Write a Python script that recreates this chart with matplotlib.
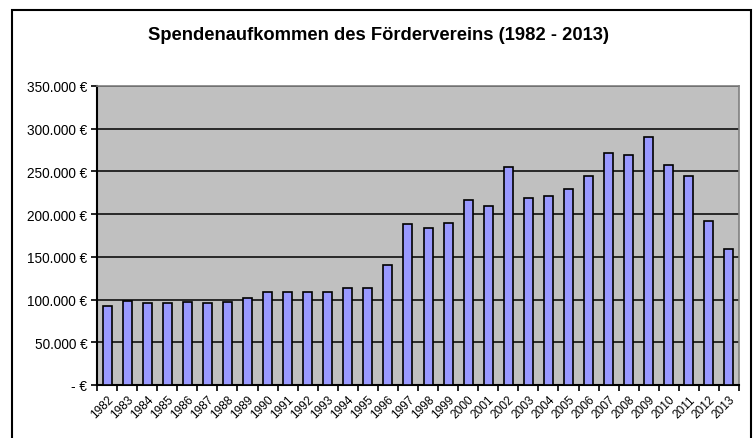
import matplotlib.pyplot as plt
from matplotlib.patches import Rectangle

plt.rcParams['font.family'] = ['Liberation Sans', 'DejaVu Sans']

years = [str(y) for y in range(1982, 2014)]
spenden = [92000, 98000, 96000, 96000, 97500, 96000, 97500, 102000,
           109000, 109000, 109000, 109000, 113500, 113500, 140000, 188000,
           183500, 189500, 216000, 209500, 255500, 219000, 221000, 230000,
           244500, 271000, 269000, 290500, 258000, 244500, 192500, 159000]
y_ticks = [0, 50000, 100000, 150000, 200000, 250000, 300000, 350000]


def euro(v):
    if v == 0:
        return "- €"
    return f"{v:,.0f}".replace(",", ".") + " €"


fig = plt.figure(figsize=(7.56, 4.39), dpi=100)
# outer chart frame
fig.patches.append(Rectangle((12 / 756, -0.05), 739 / 756, 1 - 11 / 439 + 0.05,
                             transform=fig.transFigure, fill=False,
                             edgecolor='black', linewidth=1.5))

ax = fig.add_axes([97 / 756, 1 - 386 / 439, 642 / 756, 299 / 439])
ax.set_facecolor('#C0C0C0')

x = list(range(len(years)))
ax.bar(x, spenden, width=0.45, color='#9999FF', edgecolor='black',
       linewidth=1.2, zorder=3)

ax.set_xlim(-0.5, len(years) - 0.5)
ax.set_ylim(0, 350000)
ax.set_yticks(y_ticks)
ax.set_yticklabels([euro(v) for v in y_ticks], fontsize=9.8)
ax.yaxis.grid(True, color='black', linewidth=1.1, zorder=1)
ax.set_axisbelow(True)

ax.set_xticks(x)
ax.set_xticklabels(years, rotation=45, ha='right', va='top',
                   rotation_mode='anchor', fontsize=8.6)
ax.tick_params(axis='x', which='major', length=0, pad=6)
ax.set_xticks([i - 0.5 for i in range(len(years) + 1)], minor=True)
ax.tick_params(axis='x', which='minor', length=4, width=1.2, direction='out')
ax.tick_params(axis='y', length=4, width=1.2, direction='out', pad=3)

for side in ['left', 'bottom']:
    ax.spines[side].set_color('black')
    ax.spines[side].set_linewidth(1.5)
for side in ['top', 'right']:
    ax.spines[side].set_color('#808080')
    ax.spines[side].set_linewidth(1.2)

fig.text(0.5, 1 - 35 / 439, "Spendenaufkommen des Fördervereins (1982 - 2013)",
         ha='center', va='center', fontsize=13.2, fontweight='bold')

fig.savefig('out.png', dpi=100)
